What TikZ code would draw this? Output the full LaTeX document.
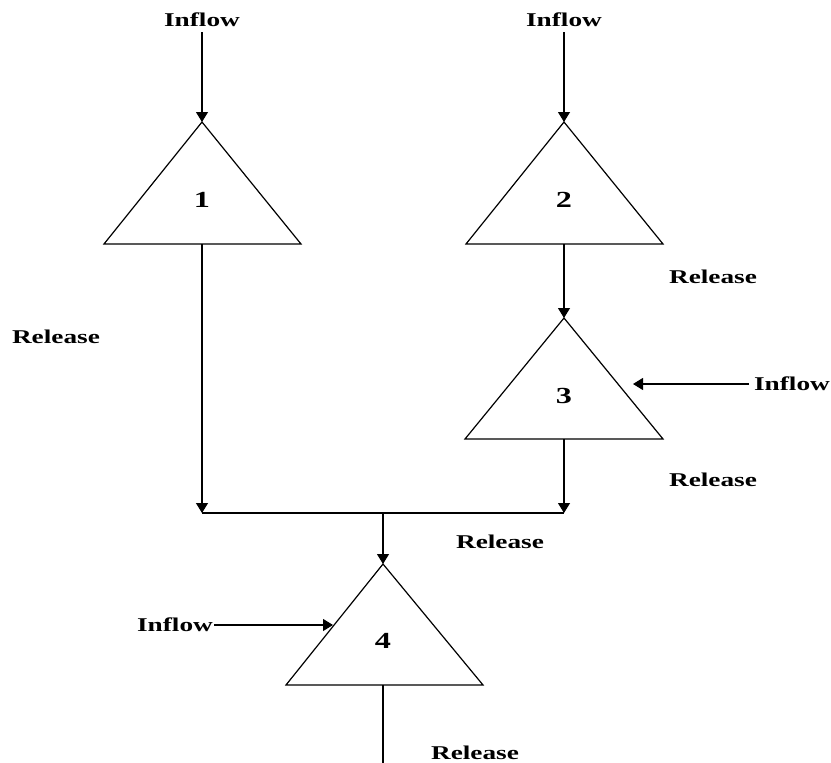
\documentclass[tikz,border=0pt]{standalone}
\usepackage{fontspec}
\setmainfont{Liberation Serif}[FakeStretch=1.4]
\usetikzlibrary{arrows.meta}
\begin{document}
\begin{tikzpicture}[x=1pt,y=-1pt,
  lbl/.style={font=\fontsize{19.5}{21}\selectfont\bfseries, inner sep=0pt},
  num/.style={font=\fontsize{23}{25}\selectfont\bfseries, inner sep=0pt},
  flow/.style={line width=1.2pt, -{Triangle[length=10pt,width=12pt]}},
  plain/.style={line width=1.2pt},
  tri/.style={line width=1.2pt, line join=miter}]
\useasboundingbox (0,0) rectangle (831,763);
% reservoir 1
\coordinate (a1) at (202,122); \coordinate (l1) at (104,244); \coordinate (r1) at (301,244); \coordinate (b1) at (202,244);
\draw[tri] (a1) -- (l1) -- (r1) -- cycle;
\node[num] (n1) at (202,200) {1};
% reservoir 2
\coordinate (a2) at (564,122); \coordinate (l2) at (466,244); \coordinate (r2) at (663,244); \coordinate (b2) at (564,244);
\draw[tri] (a2) -- (l2) -- (r2) -- cycle;
\node[num] (n2) at (564,200) {2};
% reservoir 3
\coordinate (a3) at (564,318); \coordinate (l3) at (465,439); \coordinate (r3) at (663,439); \coordinate (b3) at (564,439);
\draw[tri] (a3) -- (l3) -- (r3) -- cycle;
\node[num] (n3) at (564,396) {3};
% reservoir 4
\coordinate (a4) at (383,564); \coordinate (l4) at (286,685); \coordinate (r4) at (483,685); \coordinate (b4) at (383,685);
\draw[tri] (a4) -- (l4) -- (r4) -- cycle;
\node[num] (n4) at (383,641) {4};
% labels
\node[lbl] (in1) at (202,20) {Inflow};
\node[lbl] (in2) at (564,20) {Inflow};
\node[lbl] (in3) at (792,384) {Inflow};
\node[lbl] (in4) at (175,625) {Inflow};
\node[lbl] (rel1) at (56,337) {Release};
\node[lbl] (rel2) at (713,277) {Release};
\node[lbl] (rel3) at (713,480) {Release};
\node[lbl] (rel4) at (500,542) {Release};
\node[lbl] (rel5) at (475,753) {Release};
% connectors
\coordinate (t1) at (202,32); \coordinate (t2) at (564,32);
\draw[flow] (t1) -- (a1);
\draw[flow] (t2) -- (a2);
\draw[flow] (b2) -- (a3);
\coordinate (s3) at (749,384); \coordinate (e3) at (633,384);
\draw[flow] (s3) -- (e3);
\coordinate (s4) at (214,625); \coordinate (e4) at (333,625);
\draw[flow] (s4) -- (e4);
\coordinate (j1) at (202,513); \coordinate (j3) at (564,513); \coordinate (jm) at (383,513);
\draw[flow] (b1) -- (j1);
\draw[flow] (b3) -- (j3);
\draw[plain] (j1) -- (j3);
\draw[flow] (jm) -- (a4);
\coordinate (out) at (383,763);
\draw[plain] (b4) -- (out);
\end{tikzpicture}
\end{document}
